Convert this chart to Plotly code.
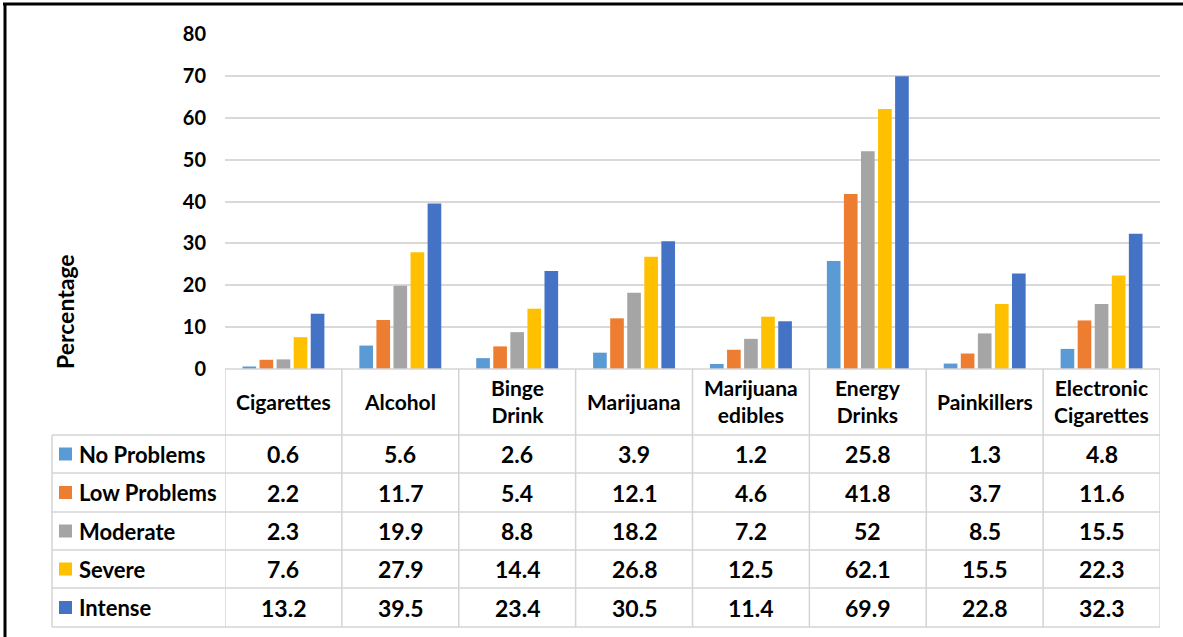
import plotly.graph_objects as go

categories = ["Cigarettes", "Alcohol", "Binge<br>Drink", "Marijuana", "Marijuana<br>edibles",
              "Energy<br>Drinks", "Painkillers", "Electronic<br>Cigarettes"]
series_names = ["No Problems", "Low Problems", "Moderate", "Severe", "Intense"]
no_problems = [0.6, 5.6, 2.6, 3.9, 1.2, 25.8, 1.3, 4.8]
low_problems = [2.2, 11.7, 5.4, 12.1, 4.6, 41.8, 3.7, 11.6]
moderate = [2.3, 19.9, 8.8, 18.2, 7.2, 52, 8.5, 15.5]
severe = [7.6, 27.9, 14.4, 26.8, 12.5, 62.1, 15.5, 22.3]
intense = [13.2, 39.5, 23.4, 30.5, 11.4, 69.9, 22.8, 32.3]
series_values = [no_problems, low_problems, moderate, severe, intense]
colors = ["#5B9BD5", "#ED7D31", "#A5A5A5", "#FFC000", "#4472C4"]
y_ticks = [0, 10, 20, 30, 40, 50, 60, 70, 80]

W, H = 1183, 637
L, R, T, B = 225, 1160, 34, 369
FONT = "Lato"

def px2x(px):
    return (px - L) / (R - L)

def px2y(py):
    return (B - py) / (B - T)

fig = go.Figure()
xs = list(range(len(categories)))
for name, vals, col in zip(series_names, series_values, colors):
    fig.add_trace(go.Bar(x=xs, y=vals, name=name, marker_color=col,
                         marker_line_width=0, showlegend=False))

shapes = []
annotations = []
grid_col = "#d4d4d4"

row_lines = [435, 473, 512, 550, 588, 627]
leg_left = 52
n = len(categories)

for i in range(n + 1):
    shapes.append(dict(type="line", xref="x", yref="paper", x0=i - 0.5, x1=i - 0.5,
                       y0=px2y(B), y1=px2y(row_lines[-1]),
                       line=dict(color=grid_col, width=1.5)))
shapes.append(dict(type="line", xref="paper", yref="paper", x0=px2x(leg_left), x1=px2x(leg_left),
                   y0=px2y(row_lines[0]), y1=px2y(row_lines[-1]),
                   line=dict(color=grid_col, width=1.5)))
shapes.append(dict(type="line", xref="paper", yref="paper", x0=0, x1=1,
                   y0=0, y1=0, line=dict(color=grid_col, width=1.5)))
for ry in row_lines:
    shapes.append(dict(type="line", xref="paper", yref="paper", x0=px2x(leg_left), x1=1,
                       y0=px2y(ry), y1=px2y(ry), line=dict(color=grid_col, width=1.5)))

for i, c in enumerate(categories):
    annotations.append(dict(x=i, xref="x", y=px2y((B + row_lines[0]) / 2 - 1), yref="paper",
                            text=c, showarrow=False, xanchor="center", yanchor="middle",
                            font=dict(family=FONT, size=21, color="black", weight="bold")))

for r, (name, vals, col) in enumerate(zip(series_names, series_values, colors)):
    top = row_lines[r]
    bot = row_lines[r + 1]
    mid = (top + bot) / 2
    shapes.append(dict(type="rect", xref="paper", yref="paper",
                       x0=px2x(59), x1=px2x(72), y0=px2y(mid - 6.5), y1=px2y(mid + 6.5),
                       fillcolor=col, line=dict(width=0)))
    annotations.append(dict(x=px2x(77), xref="paper", y=px2y(mid), yref="paper",
                            text=name, showarrow=False, xanchor="left", yanchor="middle",
                            font=dict(family=FONT, size=22, color="black", weight="bold")))
    for i, v in enumerate(vals):
        annotations.append(dict(x=i, xref="x", y=px2y(mid), yref="paper",
                                text=f"{v:g}", showarrow=False, xanchor="center", yanchor="middle",
                                font=dict(family=FONT, size=23, color="black", weight="bold")))

annotations.append(dict(x=px2x(65), xref="paper", y=px2y(312), yref="paper",
                        text="Percentage", textangle=-90, showarrow=False,
                        xanchor="center", yanchor="middle",
                        font=dict(family=FONT, size=23, color="black", weight="bold")))

shapes.append(dict(type="line", xref="paper", yref="paper", x0=px2x(3), x1=px2x(W + 5),
                   y0=px2y(4), y1=px2y(4), line=dict(color="black", width=3)))
shapes.append(dict(type="line", xref="paper", yref="paper", x0=px2x(5), x1=px2x(5),
                   y0=px2y(3), y1=px2y(H + 5), line=dict(color="black", width=3)))

fig.update_layout(
    width=W, height=H, autosize=False,
    margin=dict(l=L, r=W - R, t=T, b=H - B, pad=0),
    plot_bgcolor="white", paper_bgcolor="white",
    barmode="group", bargap=0.27, bargroupgap=0.2,
    shapes=shapes, annotations=annotations,
    xaxis=dict(range=[-0.5, n - 0.5], showticklabels=False, showgrid=False,
               zeroline=False, showline=False, ticks=""),
    yaxis=dict(range=[0, 80], tickvals=y_ticks, showgrid=True, gridcolor="#d9d9d9",
               gridwidth=1.5, zeroline=False, showline=False, ticks="",
               ticklabelstandoff=18,
               tickfont=dict(family=FONT, size=20, color="black", weight="bold")),
)

fig.write_html("out.html", config={"displayModeBar": False},
               post_script="document.body.style.margin='0';document.body.style.overflow='hidden';")
